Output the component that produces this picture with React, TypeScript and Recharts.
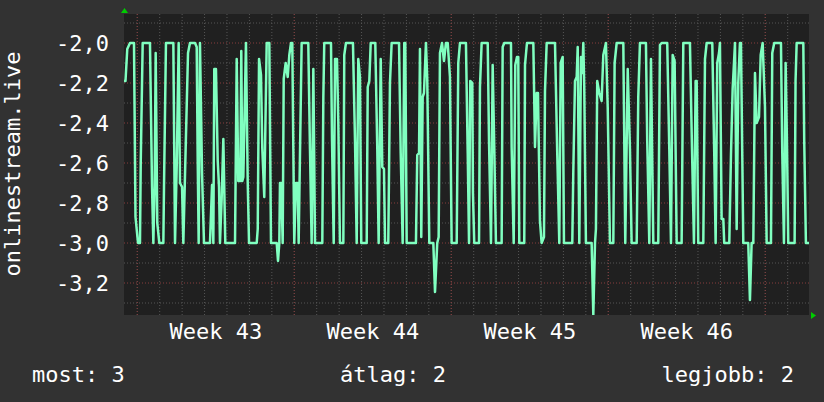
import { CartesianGrid, Line, LineChart, XAxis, YAxis } from "recharts";

const FONT = '"DejaVu Sans Mono", monospace';

// [hours since the left edge, value], vertex by vertex
const samples: [number, number][] = [
  [0, -2.19], [1.6, -2.19], [3.5, -2.03], [6.4, -2.0], [10.7, -2.0], [12.3, -2.87], [15.0, -3.0], [17.1, -3.0],
  [17.9, -2.6], [20.0, -2.0], [27.8, -2.0], [30.0, -2.72], [31.4, -3.0], [32.8, -2.72], [33.9, -2.05], [35.6, -2.9],
  [37.8, -3.0], [42.1, -3.0], [42.8, -2.72], [44.9, -2.0], [52.8, -2.0], [54.6, -3.0], [56.4, -2.62], [58.5, -2.0],
  [59.9, -2.7], [62.1, -2.72], [63.5, -3.0], [65.6, -2.6], [68.5, -2.05], [70.6, -2.0], [76.0, -2.0], [77.8, -2.02],
  [78.9, -2.6], [79.9, -3.0], [81.3, -2.0], [83.5, -2.65], [85.6, -3.0], [92.0, -3.0], [94.2, -2.71], [95.6, -3.0],
  [96.6, -2.13], [98.4, -2.13], [100.3, -2.59], [101.7, -2.72], [102.7, -3.0], [104.5, -2.78], [106.3, -2.48], [108.4, -3.0],
  [118.8, -3.0], [120.6, -2.08],
  [122.3, -2.69], [124.5, -2.69], [125.5, -2.04], [126.6, -2.69], [127.7, -2.67], [130.5, -2.0], [132.4, -2.7], [133.8, -3.0],
  [142.0, -3.0], [143.1, -2.93], [144.5, -2.08], [146.6, -2.16], [148.0, -2.53], [150.1, -2.77], [152.7, -2.0], [155.5, -2.0],
  [157.3, -3.0], [163.4, -3.0], [164.8, -3.09], [166.2, -3.0], [166.9, -2.7], [168.3, -2.7], [169.8, -3.0], [170.9, -2.18],
  [173.0, -2.1], [175.2, -2.17], [176.9, -2.06], [178.7, -2.0], [180.1, -2.0], [181.2, -2.53], [182.2, -3.0], [184.0, -2.7],
  [185.9, -2.7], [186.9, -3.0], [190.1, -2.0], [197.2, -2.0], [199.0, -2.53], [200.8, -3.0], [202.6, -2.13], [204.4, -3.0],
  [212.2, -3.0], [213.3, -2.27], [214.3, -2.0], [221.5, -2.0], [222.6, -2.49], [224.4, -3.0], [225.8, -2.08], [227.9, -2.08],
  [229.3, -2.39], [231.1, -3.0], [234.7, -3.0], [235.7, -2.06], [237.5, -2.0], [245.0, -2.0],
  [247.2, -2.49], [249.0, -3.0], [250.7, -2.08], [252.5, -2.17], [253.9, -3.0], [259.7, -3.0], [260.8, -2.22], [262.5, -2.19],
  [264.0, -2.0], [268.9, -2.0], [271.0, -2.52], [272.5, -3.0], [274.7, -2.08], [276.4, -2.62], [278.2, -2.63], [279.3, -3.0],
  [282.8, -3.0], [284.6, -2.2], [286.4, -2.0], [294.3, -2.0], [296.1, -2.55], [298.2, -3.0], [299.9, -2.0], [301.0, -2.0],
  [302.5, -3.0], [312.4, -3.0], [313.8, -2.56], [315.7, -2.55], [316.7, -2.03], [318.1, -2.97], [319.6, -2.27], [321.0, -2.25],
  [323.1, -2.0], [324.5, -2.18], [326.7, -3.0], [331.0, -3.0], [332.8, -3.245], [335.2, -3.0], [336.7, -2.97], [338.1, -2.05],
  [340.3, -2.0], [342.4, -2.09], [344.5, -2.0], [346.4, -2.0], [348.8, -2.17], [350.6, -3.0], [356.0, -3.0], [357.7, -2.1],
  [359.5, -2.0], [365.9, -2.0],
  [367.8, -2.55], [369.2, -3.0], [370.5, -2.19], [372.7, -2.2], [373.4, -2.75], [374.8, -3.0], [379.9, -3.0], [380.9, -2.22],
  [382.7, -2.0], [389.2, -2.0], [390.6, -2.49], [392.7, -3.0], [394.5, -2.11], [396.2, -2.52], [398.0, -3.0], [404.1, -3.0],
  [405.2, -2.02], [406.9, -2.0], [414.1, -2.0], [414.8, -2.52], [417.0, -3.0], [418.7, -2.11], [420.5, -2.07], [421.9, -2.07],
  [423.0, -3.0], [428.3, -3.0], [429.1, -2.11], [431.2, -2.0], [438.0, -2.0], [439.8, -2.52], [441.6, -2.25], [443.0, -2.25],
  [445.1, -2.89], [446.9, -3.0], [449.4, -2.97], [450.5, -2.24], [452.3, -2.0], [461.2, -2.0], [463.6, -2.55], [465.8, -3.0],
  [467.3, -2.1], [469.4, -2.07], [470.8, -3.0], [479.7, -3.0], [480.8, -2.64], [482.6, -2.19], [484.4, -2.17], [485.5, -2.02],
  [487.2, -3.0],
  [489.0, -2.07], [490.4, -2.15], [491.5, -2.0], [492.5, -2.22], [494.3, -3.0], [500.4, -3.0], [502.2, -3.36], [504.0, -3.0],
  [505.0, -2.93], [506.4, -2.19], [508.6, -2.25], [511.1, -2.29], [512.9, -2.06], [515.7, -2.0], [517.6, -2.32], [520.0, -3.0],
  [523.6, -3.0], [525.0, -2.1], [527.2, -2.0], [534.3, -2.0], [536.4, -3.0], [539.0, -2.13], [541.4, -2.53], [543.2, -3.0],
  [548.6, -3.0], [550.3, -2.27], [552.1, -2.0], [558.5, -2.0], [559.9, -2.49], [562.1, -3.0], [563.9, -2.08], [566.4, -3.0],
  [571.7, -3.0], [573.5, -2.01], [575.3, -2.0], [581.3, -2.0], [583.5, -2.53], [585.3, -3.0], [587.1, -2.06], [589.2, -2.09],
  [591.4, -3.0], [596.7, -3.0], [598.5, -2.0], [605.6, -2.0], [607.8, -2.53], [609.9, -3.0], [611.7, -2.19], [612.8, -2.19],
  [614.5, -3.0],
  [619.9, -3.0], [621.7, -2.08], [623.5, -2.0], [629.5, -2.0], [631.6, -2.55], [633.1, -3.0], [634.8, -2.1], [636.7, -2.05],
  [637.7, -2.0], [639.5, -2.88], [641.3, -2.88], [642.3, -3.0], [647.7, -3.0], [649.5, -2.56], [651.3, -2.23], [653.8, -2.0],
  [655.6, -2.93], [657.3, -2.2], [659.1, -2.0], [660.2, -2.0], [662.7, -3.0], [668.0, -3.0], [669.8, -3.285], [671.6, -3.0],
  [673.4, -3.0], [675.2, -2.15], [677.0, -2.4], [679.5, -2.37], [681.3, -2.06], [683.4, -2.0], [685.9, -2.32], [687.7, -3.0],
  [692.3, -3.0], [693.7, -2.05], [695.8, -2.0], [703.0, -2.0], [704.4, -2.55], [706.2, -3.0], [708.0, -2.1], [709.4, -2.49],
  [710.8, -3.0], [717.6, -3.0], [718.6, -2.19], [719.8, -2.0], [726.9, -2.0], [727.9, -2.49], [729.7, -3.0], [733.0, -3.0],
];

const weekTicks = [98.2, 266.2, 434.2, 602.2];
const weekLabels = ["Week 43", "Week 44", "Week 45", "Week 46"];
const weekStarts = [14.2, 182.2, 350.2, 518.2, 686.2];
const dayLines = Array.from({ length: 30 }, (_, i) => 14.2 + i * 24);
const yMajor = [-3.2, -3.0, -2.8, -2.6, -2.4, -2.2, -2.0];
const yMinor = [-3.3, -3.1, -2.9, -2.7, -2.5, -2.3, -2.1, -1.9];
const stats = ["most: 3", "átlag: 2", "legjobb: 2"];

const data = samples.map(([h, v]) => ({ h, v }));

const textStyle = {
  position: "absolute" as const,
  color: "#ffffff",
  fontFamily: FONT,
  fontSize: 22,
  lineHeight: "22px",
  whiteSpace: "nowrap" as const,
};

export default function App() {
  return (
    <div
      style={{
        position: "absolute",
        left: 0,
        top: 0,
        width: 824,
        height: 402,
        background: "#323232",
        overflow: "hidden",
      }}
    >
      <LineChart
        width={824}
        height={402}
        data={data}
        margin={{ top: 14, right: 15, bottom: 0, left: 0 }}
      >
        <CartesianGrid
          fill="#202020"
          stroke="#555555"
          strokeDasharray="1 2"
          horizontalValues={yMinor}
          verticalValues={dayLines}
        />
        <CartesianGrid
          stroke="#863c3c"
          strokeDasharray="1 2"
          horizontalValues={yMajor}
          verticalValues={weekStarts}
        />
        <XAxis
          dataKey="h"
          type="number"
          domain={[0, 733]}
          ticks={weekTicks}
          interval={0}
          tickFormatter={(v) => weekLabels[weekTicks.indexOf(v)] ?? ""}
          tick={{ fill: "#ffffff", fontSize: 22, fontFamily: FONT }}
          tickLine={false}
          axisLine={false}
          height={87}
        />
        <YAxis
          type="number"
          domain={[-3.36, -1.855]}
          allowDataOverflow
          ticks={yMajor}
          interval={0}
          tickFormatter={(v) => Number(v).toFixed(1).replace(".", ",")}
          tick={{ fill: "#ffffff", fontSize: 22, fontFamily: FONT }}
          tickLine={false}
          axisLine={false}
          tickMargin={9}
          width={124}
        />
        <Line
          type="linear"
          dataKey="v"
          stroke="#80ffc0"
          strokeWidth={2.5}
          strokeLinejoin="round"
          dot={false}
          activeDot={false}
          isAnimationActive={false}
        />
      </LineChart>

      <svg
        width={824}
        height={402}
        style={{ position: "absolute", left: 0, top: 0, pointerEvents: "none" }}
      >
        <polygon points="121,13 128,13 124.5,8" fill="#00cc00" />
        <polygon points="811,312 811,319 816,315.5" fill="#00cc00" />
      </svg>

      <div
        style={{
          ...textStyle,
          left: 12.5,
          top: 164,
          transform: "translate(-50%, -50%) rotate(-90deg)",
        }}
      >
        onlinestream.live
      </div>
      <div style={{ ...textStyle, left: 32, top: 364 }}>{stats[0]}</div>
      <div style={{ ...textStyle, left: 393, top: 364, transform: "translateX(-50%)" }}>
        {stats[1]}
      </div>
      <div style={{ ...textStyle, right: 30, top: 364 }}>{stats[2]}</div>
    </div>
  );
}
